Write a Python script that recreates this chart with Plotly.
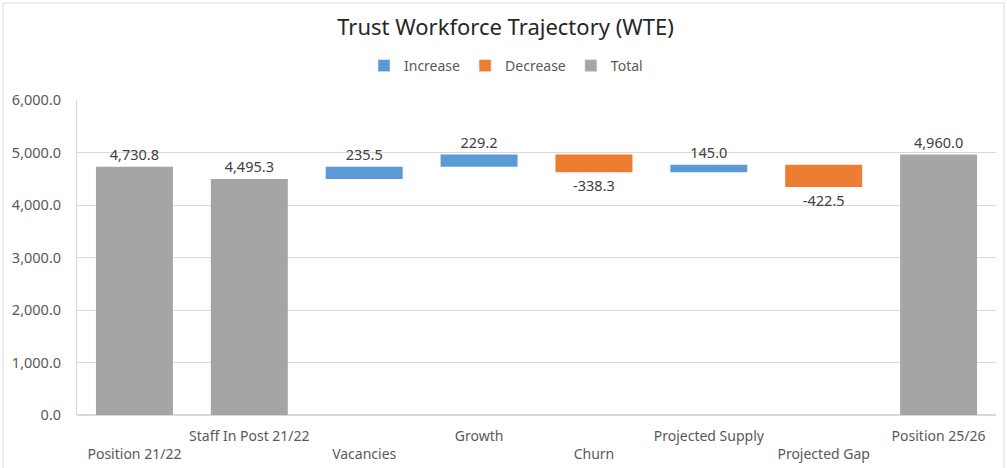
import plotly.graph_objects as go

categories = ["Position 21/22", "Staff In Post 21/22", "Vacancies", "Growth",
              "Churn", "Projected Supply", "Projected Gap", "Position 25/26"]
measures = ["absolute", "absolute", "relative", "relative",
            "relative", "relative", "relative", "absolute"]
values = [4730.8, 4495.3, 235.5, 229.2, -338.3, 145.0, -422.5, 4960.0]
label_row = [2, 1, 2, 1, 2, 1, 2, 1]
y_ticks = [0, 1000, 2000, 3000, 4000, 5000, 6000]

BLUE = "#5B9BD5"
ORANGE = "#ED7D31"
GRAY = "#A5A5A5"
FONT = "Noto Sans"

ticktext = [("<br>" + c) if r == 2 else c for c, r in zip(categories, label_row)]

fig = go.Figure()
fig.add_trace(go.Waterfall(
    x=categories, y=values, measure=measures,
    text=[f"{v:,.1f}" for v in values],
    textposition="outside",
    textfont=dict(family=FONT, size=14.5, color="#404040"),
    increasing=dict(marker=dict(color=BLUE)),
    decreasing=dict(marker=dict(color=ORANGE)),
    totals=dict(marker=dict(color=GRAY)),
    connector=dict(visible=False),
    showlegend=False,
    cliponaxis=False,
))
for name, col in [("Increase", BLUE), ("Decrease", ORANGE), ("Total", GRAY)]:
    fig.add_trace(go.Bar(x=[None], y=[None], name=name, marker_color=col))

L, R, T, B = 77, 11, 100, 53
W, H = 1007, 468
pw, ph = W - L - R, H - T - B

fig.update_layout(
    width=W, height=H,
    margin=dict(l=L, r=R, t=T, b=B, autoexpand=False),
    paper_bgcolor="white", plot_bgcolor="white",
    waterfallgap=0.33,
    font=dict(family=FONT, size=14, color="#595959"),
    title=dict(text="Trust Workforce Trajectory (WTE)", x=0.502, xanchor="center",
               y=1 - 27 / H, yanchor="middle",
               font=dict(family=FONT, size=22, color="#262626")),
    legend=dict(orientation="h", x=(506 - L) / pw, xanchor="center",
                y=(H - B - 66) / ph, yanchor="middle",
                font=dict(family=FONT, size=14, color="#595959"),
                itemwidth=30, traceorder="normal"),
    xaxis=dict(tickmode="array", tickvals=categories, ticktext=ticktext,
               showgrid=False, showline=False, ticks="", tickangle=0,
               ticklabelstandoff=11, automargin=False,
               tickfont=dict(family=FONT, size=14, color="#595959")),
    yaxis=dict(range=[0, 6000], tickvals=y_ticks, tickformat=",.1f",
               showgrid=True, gridcolor="#D9D9D9", gridwidth=1, automargin=False,
               showline=True, linecolor="#D9D9D9", zeroline=True, zerolinecolor="#D9D9D9",
               ticks="", ticklabelstandoff=12,
               tickfont=dict(family=FONT, size=14.5, color="#595959")),
    shapes=[dict(type="rect", xref="paper", yref="paper",
                 x0=(3 - L) / pw, x1=(W - 3 - L) / pw,
                 y0=(H - B - (H + 5)) / ph, y1=(H - B - 3) / ph,
                 line=dict(color="#D9D9D9", width=1), layer="below")],
)

fig.write_html("out.html")
